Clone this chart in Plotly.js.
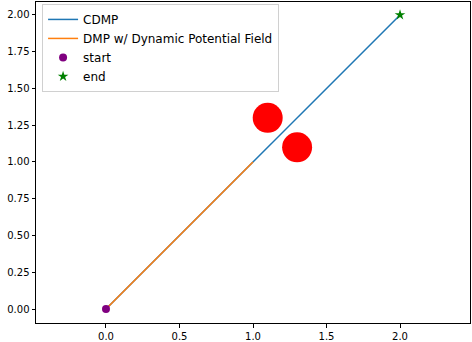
<!DOCTYPE html>
<html>
<head>
<meta charset="utf-8">
<script src="https://cdn.plot.ly/plotly-3.0.1.min.js"></script>
<style>
  html, body { margin: 0; padding: 0; background: #fff; }
  #chart { width: 472px; height: 342px; }
</style>
</head>
<body>
<div id="chart"></div>
<script>
// trajectories
const cdmp_x = [0.0, 0.1, 0.2, 0.3, 0.4, 0.5, 0.6, 0.7, 0.8, 0.9, 1.0, 1.1, 1.2, 1.3, 1.4, 1.5, 1.6, 1.7, 1.8, 1.9, 2.0];
const cdmp_y = [0.0, 0.1, 0.2, 0.3, 0.4, 0.5, 0.6, 0.7, 0.8, 0.9, 1.0, 1.1, 1.2, 1.3, 1.4, 1.5, 1.6, 1.7, 1.8, 1.9, 2.0];
const dmp_x = [0.0, 0.1, 0.2, 0.3, 0.4, 0.5, 0.6, 0.7, 0.8, 0.9, 1.0];
const dmp_y = [0.0, 0.1, 0.2, 0.3, 0.4, 0.5, 0.6, 0.7, 0.8, 0.9, 1.0];
const obstacle_x = [1.1, 1.3];
const obstacle_y = [1.3, 1.1];
const start_pt = [0, 0];
const end_pt = [2, 2];

const font = {family: 'DejaVu Sans, sans-serif', size: 10, color: '#000'};

const traces = [
  {x: cdmp_x, y: cdmp_y, type: 'scatter', mode: 'lines', name: 'CDMP',
   line: {color: '#1f77b4', width: 1.5}},
  {x: dmp_x, y: dmp_y, type: 'scatter', mode: 'lines', name: 'DMP w/ Dynamic Potential Field',
   line: {color: '#ff7f0e', width: 1.5}},
  {x: obstacle_x, y: obstacle_y, type: 'scatter', mode: 'markers', showlegend: false,
   marker: {color: '#ff0000', size: 30}},
  {x: [start_pt[0]], y: [start_pt[1]], type: 'scatter', mode: 'markers', name: 'start',
   marker: {color: '#800080', size: 8}},
  {x: [end_pt[0]], y: [end_pt[1]], type: 'scatter', mode: 'markers', name: 'end',
   marker: {color: '#008000', size: 8, symbol: 'star'}}
];

const layout = {
  width: 472, height: 342,
  margin: {l: 36, r: 2, t: 2, b: 19},
  paper_bgcolor: '#fff', plot_bgcolor: '#fff',
  font: font,
  showlegend: true,
  legend: {x: 0.014, y: 0.994, xanchor: 'left', yanchor: 'top',
    bordercolor: '#d0d0d0', borderwidth: 1, bgcolor: 'rgba(255,255,255,0.8)',
    font: {family: 'DejaVu Sans, sans-serif', size: 12, color: '#000'},
    tracegroupgap: 0, itemwidth: 30},
  xaxis: {range: [-0.476, 2.476], tickvals: [0, 0.5, 1, 1.5, 2],
    ticktext: ['0.0', '0.5', '1.0', '1.5', '2.0'],
    showgrid: false, zeroline: false, showline: true, mirror: true,
    linecolor: '#000', linewidth: 1, ticks: 'outside', ticklen: 3.5, tickcolor: '#000'},
  yaxis: {range: [-0.095, 2.088], tickvals: [0, 0.25, 0.5, 0.75, 1, 1.25, 1.5, 1.75, 2],
    ticktext: ['0.00', '0.25', '0.50', '0.75', '1.00', '1.25', '1.50', '1.75', '2.00'],
    showgrid: false, zeroline: false, showline: true, mirror: true,
    linecolor: '#000', linewidth: 1, ticks: 'outside', ticklen: 3.5, tickcolor: '#000'}
};

Plotly.newPlot('chart', traces, layout, {displayModeBar: false, staticPlot: true});
</script>
</body>
</html>
